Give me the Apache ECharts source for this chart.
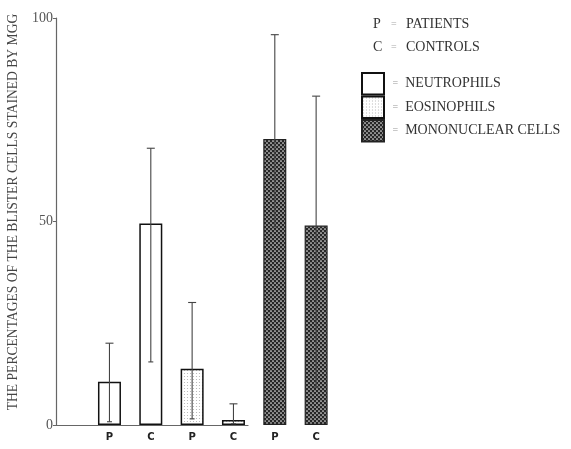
<!DOCTYPE html>
<html>
<head>
<meta charset="utf-8">
<script src="https://cdn.jsdelivr.net/npm/echarts@6/dist/echarts.min.js"></script>
<style>
html,body{margin:0;padding:0;background:#fff;}
#chart{width:571px;height:449px;}
</style>
</head>
<body>
<div id="chart"></div>
<script>
// ---- data ----
const categories = ['P', 'C', 'P', 'C', 'P', 'C'];
const neutrophils = [10.6, 49.5, null, null, null, null];
const eosinophils = [null, null, 13.8, 1.2, null, null];
const mononuclear = [null, null, null, null, 70.3, 49.0];
const errorLow = [0.8, 15.5, 1.5, 0.3, 48.7, 9.3];
const errorHigh = [20.1, 68.0, 30.1, 5.2, 95.9, 80.8];
const yTickValues = [0, 50, 100];
const groupKey = [['P', 'PATIENTS'], ['C', 'CONTROLS']];
const seriesNames = ['NEUTROPHILS', 'EOSINOPHILS', 'MONONUCLEAR CELLS'];
const yTitle = 'THE PERCENTAGES OF THE BLISTER CELLS STAINED BY MGG';

// ---- fill patterns ----
function makePattern(size, bg, dot, pts, r) {
  const c = document.createElement('canvas');
  c.width = size; c.height = size;
  const g = c.getContext('2d');
  g.fillStyle = bg; g.fillRect(0, 0, size, size);
  g.fillStyle = dot;
  pts.forEach(p => { g.beginPath(); g.arc(p[0], p[1], r, 0, Math.PI * 2); g.fill(); });
  return { image: c, repeat: 'repeat' };
}
const eosPattern = makePattern(3, '#ffffff', '#b0b0b0', [[1.5, 1.5]], 0.6);
const monoPattern = makePattern(4, '#262626', '#e8e8e8', [[1, 1], [3, 3]], 0.85);

const serif = 'Liberation Serif';
const chart = echarts.init(document.getElementById('chart'));

const errData = categories.map((c, i) => [i, errorLow[i], errorHigh[i]]);

const graphics = [];
groupKey.forEach((g, k) => {
  const y = 17 + k * 23;
  graphics.push({ type: 'text', left: 373, top: y, style: { text: g[0], font: '14px "Liberation Serif"', fill: '#333' } });
  graphics.push({ type: 'text', left: 391, top: y + 2, style: { text: '=', font: '10px "Liberation Serif"', fill: '#aaa' } });
  graphics.push({ type: 'text', left: 406, top: y, style: { text: g[1], font: '14px "Liberation Serif"', fill: '#333' } });
});
graphics.push({
  type: 'text', x: 13, y: 212, rotation: Math.PI / 2,
  style: { text: yTitle, font: '13.6px "Liberation Serif"', fill: '#444', align: 'center', verticalAlign: 'middle' }
});

chart.setOption({
  animation: false,
  backgroundColor: '#fff',
  grid: [
    { left: 56, top: 18, width: 192, height: 407 },
    { left: 88.8, top: 18, width: 248, height: 407 }
  ],
  xAxis: [
    { gridIndex: 0, type: 'category', data: categories, boundaryGap: true,
      axisLine: { show: true, lineStyle: { color: '#666', width: 1.2 } },
      axisTick: { show: false }, axisLabel: { show: false }, splitLine: { show: false } },
    { gridIndex: 1, type: 'category', data: categories, boundaryGap: true,
      axisLine: { show: false }, axisTick: { show: false }, splitLine: { show: false },
      axisLabel: { margin: 7, fontFamily: 'DejaVu Sans', fontWeight: 'bold', fontSize: 10, color: '#222' } }
  ],
  yAxis: [
    { gridIndex: 0, type: 'value', min: 0, max: 100, interval: 50,
      axisLine: { show: true, lineStyle: { color: '#666', width: 1.2 } },
      axisTick: { show: true, length: 3, lineStyle: { color: '#666' } },
      splitLine: { show: false },
      axisLabel: { margin: 3, fontFamily: serif, fontSize: 14, color: '#555',
        formatter: v => yTickValues.includes(v) ? String(v) : '' } },
    { gridIndex: 1, type: 'value', min: 0, max: 100, show: false }
  ],
  legend: {
    orient: 'vertical', left: 361, top: 72, padding: 0, itemWidth: 22, itemHeight: 21.5, itemGap: 0,
    icon: 'rect', selectedMode: false, data: seriesNames,
    formatter: n => ' {eq|=}  ' + n,
    textStyle: { fontFamily: serif, fontSize: 14, color: '#333',
      rich: { eq: { fontSize: 10, color: '#999', fontFamily: serif } } }
  },
  graphic: graphics,
  series: [
    { name: seriesNames[0], type: 'bar', xAxisIndex: 1, yAxisIndex: 1, stack: 'one', barWidth: 23,
      data: neutrophils, itemStyle: { color: '#ffffff', borderColor: '#111', borderWidth: 1.5 } },
    { name: seriesNames[1], type: 'bar', xAxisIndex: 1, yAxisIndex: 1, stack: 'one', barWidth: 23,
      data: eosinophils, itemStyle: { color: eosPattern, borderColor: '#111', borderWidth: 1.5 } },
    { name: seriesNames[2], type: 'bar', xAxisIndex: 1, yAxisIndex: 1, stack: 'one', barWidth: 23,
      data: mononuclear, itemStyle: { color: monoPattern, borderColor: '#222', borderWidth: 1.2 } },
    { name: 'error', type: 'custom', xAxisIndex: 1, yAxisIndex: 1, data: errData,
      encode: { x: 0, y: [1, 2] }, z: 5,
      renderItem: function (params, api) {
        const x = api.value(0);
        const lo = api.coord([x, api.value(1)]);
        const hi = api.coord([x, api.value(2)]);
        const capT = 4, capB = 2.5;
        const style = { stroke: '#444', lineWidth: 1.1 };
        return { type: 'group', children: [
          { type: 'line', shape: { x1: hi[0], y1: hi[1], x2: lo[0], y2: lo[1] }, style: style },
          { type: 'line', shape: { x1: hi[0] - capT, y1: hi[1], x2: hi[0] + capT, y2: hi[1] }, style: style },
          { type: 'line', shape: { x1: lo[0] - capB, y1: lo[1], x2: lo[0] + capB, y2: lo[1] }, style: style }
        ] };
      } }
  ]
});
</script>
</body>
</html>
